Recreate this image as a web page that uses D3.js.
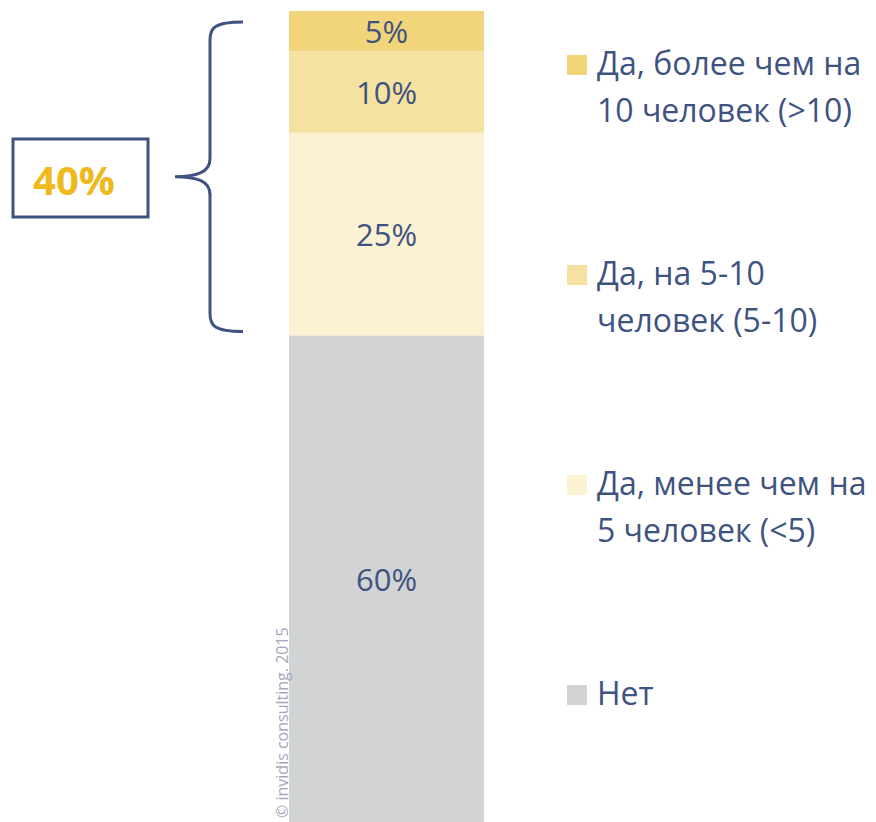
<!DOCTYPE html>
<meta charset="utf-8">
<script src="https://d3js.org/d3.v7.min.js"></script>
<style>
  body { margin: 0; background: #fff; }
  text { font-family: "Open Sans", sans-serif; }
</style>
<div id="chart"></div>
<script>

// data, bottom segment first
var categories = ["Нет", "Да, менее чем на 5 человек (<5)", "Да, на 5-10 человек (5-10)", "Да, более чем на 10 человек (>10)"];
var values = [60, 25, 10, 5];
var colors = ["#d2d3d5", "#fbf1d3", "#f6e2a0", "#f2d57a"];
var legendLines = [["Нет"], ["Да, менее чем на", "5 человек (<5)"], ["Да, на 5-10", "человек (5-10)"], ["Да, более чем на", "10 человек (>10)"]];
var bracketTotal = "40%";

var width = 876, height = 822;
var navy = "#3f5380";

var svg = d3.select("#chart")
  .append("svg")
    .attr("width", width)
    .attr("height", height);

// stacked bar on a 0-100 scale
var y = d3.scaleLinear().domain([0, 100]).range([822, 11]);
var x = d3.scaleBand().domain(["bar"]).range([289, 484]).padding(0);

var stacked = [];
var acc = 0;
values.forEach(function(v, i) {
  stacked.push({ cat: categories[i], v: v, y0: acc, y1: acc + v, color: colors[i] });
  acc += v;
});

svg.selectAll("rect.seg")
  .data(stacked)
  .enter()
  .append("rect")
    .attr("class", "seg")
    .attr("x", x("bar"))
    .attr("width", x.bandwidth())
    .attr("y", function(d) { return y(d.y1); })
    .attr("height", function(d) { return y(d.y0) - y(d.y1); })
    .attr("fill", function(d) { return d.color; });

svg.selectAll("text.val")
  .data(stacked)
  .enter()
  .append("text")
    .attr("class", "val")
    .attr("x", x("bar") + x.bandwidth() / 2)
    .attr("y", function(d) { return (y(d.y0) + y(d.y1)) / 2 + 12; })
    .attr("text-anchor", "middle")
    .attr("font-size", 31)
    .attr("fill", navy)
    .text(function(d) { return d.v + "%"; });

// legend, top to bottom
var legendY = [705, 495, 285, 75];
var leg = svg.selectAll("g.leg")
  .data(stacked)
  .enter()
  .append("g")
    .attr("class", "leg")
    .attr("transform", function(d, i) { return "translate(567," + legendY[i] + ")"; });

leg.append("rect")
  .attr("x", 0)
  .attr("y", -20)
  .attr("width", 20)
  .attr("height", 20)
  .attr("fill", function(d) { return d.color; });

leg.each(function(d, i) {
  var t = d3.select(this).append("text")
    .attr("font-size", 32)
    .attr("fill", navy);
  legendLines[i].forEach(function(line, j) {
    t.append("tspan")
      .attr("x", 30)
      .attr("y", j * 47)
      .text(line);
  });
});

// brace around the "yes" part
var bTop = y(100) + 11, bBot = y(60) - 4, bMid = (bTop + bBot) / 2;
var bx = 243, vx = 210, tip = 175, r = 18;
var brace = "M" + bx + "," + bTop +
  " C" + (vx + 4) + "," + bTop + " " + vx + "," + (bTop + 6) + " " + vx + "," + (bTop + r) +
  " L" + vx + "," + (bMid - r) +
  " C" + vx + "," + (bMid - 4) + " " + (vx - 14) + "," + bMid + " " + tip + "," + bMid +
  " C" + (vx - 14) + "," + bMid + " " + vx + "," + (bMid + 4) + " " + vx + "," + (bMid + r) +
  " L" + vx + "," + (bBot - r) +
  " C" + vx + "," + (bBot - 6) + " " + (vx + 4) + "," + bBot + " " + bx + "," + bBot;

svg.append("path")
  .attr("d", brace)
  .attr("fill", "none")
  .attr("stroke", navy)
  .attr("stroke-width", 3);

svg.append("rect")
  .attr("x", 13)
  .attr("y", 139)
  .attr("width", 135)
  .attr("height", 78)
  .attr("fill", "none")
  .attr("stroke", navy)
  .attr("stroke-width", 3);

svg.append("text")
  .attr("x", 74)
  .attr("y", 195)
  .attr("text-anchor", "middle")
  .attr("font-size", 40)
  .attr("font-weight", "bold")
  .attr("fill", "#efb91b")
  .text(bracketTotal);

// copyright
svg.append("text")
  .attr("transform", "translate(288,818) rotate(-90)")
  .attr("font-size", 16)
  .attr("fill", "#a3a7bb")
  .text("© invidis consulting. 2015");

</script>
